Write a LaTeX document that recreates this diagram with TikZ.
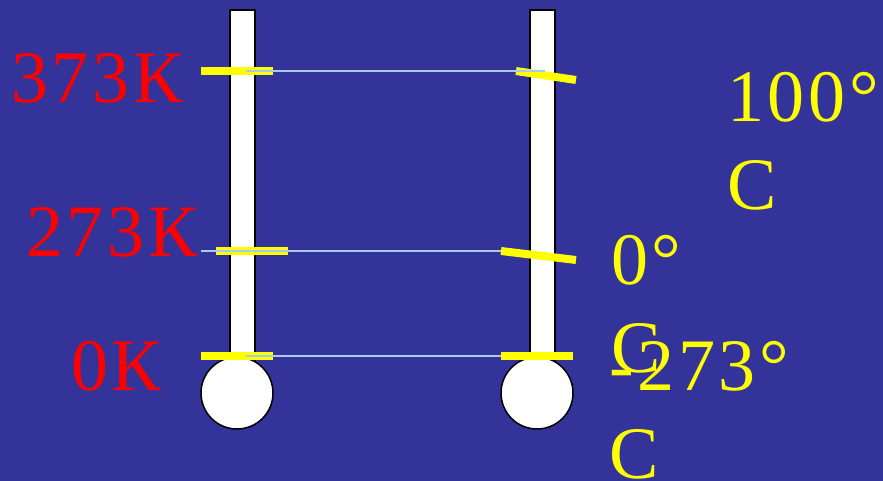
\documentclass[tikz,border=0pt]{standalone}
\usepackage{fontspec}
\setmainfont{Liberation Serif}[LetterSpace=5]
\definecolor{bg}{HTML}{333399}
\definecolor{mkyellow}{HTML}{FFFF00}
\definecolor{lvl}{HTML}{A6CAF0}
\begin{document}
\begin{tikzpicture}[x=1pt,y=-1pt,
  tube/.style={draw=black,fill=white,line width=1.5pt},
  bulb/.style={draw=black,fill=white,line width=1.5pt},
  tickmark/.style={draw=mkyellow,line width=8pt},
  level/.style={draw=lvl,line width=2pt},
  klabel/.style={text=red,font=\fontsize{74}{88}\selectfont,inner sep=0pt,anchor=base west},
  clabel/.style={text=mkyellow,font=\fontsize{74}{88}\selectfont,inner sep=0pt,anchor=base west,align=left}]
\fill[bg] (0,0) rectangle (883,481);
\useasboundingbox (0,0) rectangle (883,481);
% tubes
\draw[tube] (230,10) rectangle (255,365);
\draw[tube] (530,10) rectangle (555,365);
% bulbs
\node[bulb,circle,minimum size=72pt,inner sep=0pt] (lb) at (237,393) {};
\node[bulb,circle,minimum size=72pt,inner sep=0pt] (rb) at (537,393) {};
% mark end points
\coordinate (la1) at (201,71);  \coordinate (la2) at (273,71);
\coordinate (lb1) at (216,251); \coordinate (lb2) at (288,251);
\coordinate (lc1) at (201,356); \coordinate (lc2) at (273,356);
\coordinate (ra1) at (516,71);  \coordinate (ra2) at (576,80);
\coordinate (rb1) at (501,251); \coordinate (rb2) at (576,260);
\coordinate (rc1) at (501,356); \coordinate (rc2) at (573,356);
% level line ends
\coordinate (pa1) at (246,71);  \coordinate (pa2) at (545,71);
\coordinate (pb1) at (201,251); \coordinate (pb2) at (501,251);
\coordinate (pc1) at (246,356); \coordinate (pc2) at (501,356);
% yellow marks
\draw[tickmark] (la1) -- (la2);
\draw[tickmark] (lb1) -- (lb2);
\draw[tickmark] (lc1) -- (lc2);
\draw[tickmark] (ra1) -- (ra2);
\draw[tickmark] (rb1) -- (rb2);
\draw[tickmark] (rc1) -- (rc2);
% level lines
\draw[level] (pa1) -- (pa2);
\draw[level] (pb1) -- (pb2);
\draw[level] (pc1) -- (pc2);
% Kelvin labels
\node[klabel] (k373) at (11,103) {373К};
\node[klabel] (k273) at (26,256) {273К};
\node[klabel] (k0) at (71,390) {0К};
% Celsius labels (anchor = baseline of last line)
\node[clabel] (c100) at (727,209) {100°\\C};
\node[clabel] (c0) at (611,372) {0°\\C};
\node[clabel] (cm273) at (609,478) {-273°\\C};
\end{tikzpicture}
\end{document}
